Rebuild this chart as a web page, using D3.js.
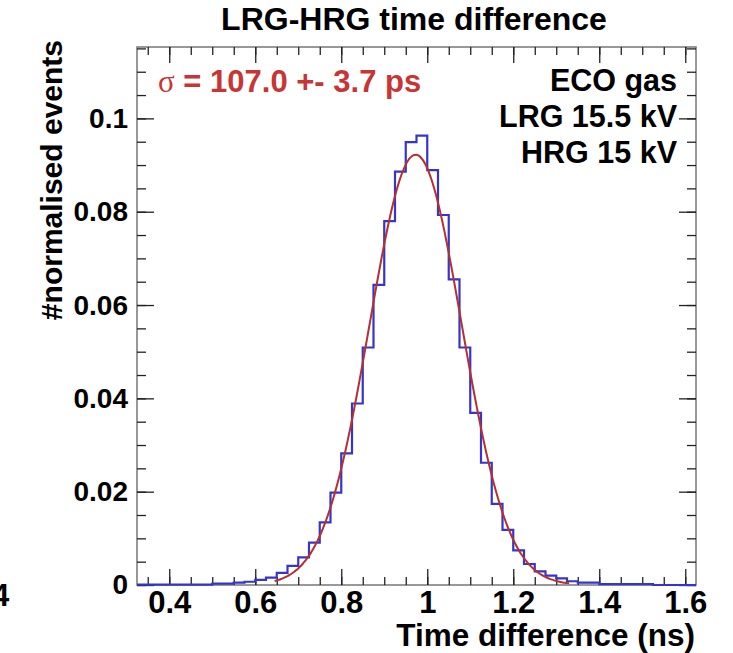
<!DOCTYPE html>
<html>
<head>
<meta charset="utf-8">
<script src="https://cdn.jsdelivr.net/npm/d3@7"></script>
<style>
  body { margin: 0; background: #fff; }
  text { font-family: 'Liberation Sans', Arial, sans-serif; font-weight: bold; }
</style>
</head>
<body>
<div id="chart"></div>
<script>
const width = 733
const height = 653

// histogram: first bin edge, bin width and bin contents (normalised)
const binStart = 0.325
const binWidth = 0.025
const binValues = [
    0.0001, 0.0001, 0.0001, 0.0001, 0.0001, 0.0001, 0.0001,
    0.0003, 0.0003, 0.0005, 0.0007, 0.0011, 0.0016, 0.0026, 0.0041,
    0.0059, 0.0091, 0.0134, 0.0198, 0.0282, 0.0389, 0.0509, 0.0643,
    0.0780, 0.0886, 0.0949, 0.0963, 0.0889, 0.0793, 0.0655, 0.0509,
    0.0369, 0.0262, 0.0174, 0.0118, 0.0074, 0.0045, 0.0029, 0.0020,
    0.0014, 0.0008, 0.0005, 0.0005, 0.0002, 0.0002, 0.0002, 0.0002,
    0.0002, 0, 0, 0, 0
]

// gaussian fit: constant, mean, sigma (ns) and fit range
const fitConst = 0.0922
const fitMean = 0.973
const fitSigma = 0.107
const fitRange = [0.645, 1.33]

const xMajor = [0.4, 0.6, 0.8, 1.0, 1.2, 1.4, 1.6]
const yMajor = [0, 0.02, 0.04, 0.06, 0.08, 0.1]

const legendLines = ['ECO gas', 'LRG 15.5 kV', 'HRG 15 kV']

const frame = {left: 137, right: 696, top: 47, bottom: 585}

const x = d3.scaleLinear()
    .domain([0.325, 1.625])
    .range([frame.left, frame.right])

const y = d3.scaleLinear()
    .domain([0, 0.1153])
    .range([frame.bottom, frame.top])

const svg = d3.select('#chart')
    .append('svg')
    .attr('width', width)
    .attr('height', height)

// frame
svg.append('rect')
    .attr('x', frame.left)
    .attr('y', frame.top)
    .attr('width', frame.right - frame.left)
    .attr('height', frame.bottom - frame.top)
    .attr('fill', 'none')
    .attr('stroke', '#777')
    .attr('stroke-width', 1.5)

const xMinor = d3.range(0.35, 1.625, 0.05).map(v => +v.toFixed(3))
const yMinor = d3.range(0, 0.1153, 0.005).map(v => +v.toFixed(4))

function styleAxis (g, size) {
    g.select('.domain').remove()
    g.selectAll('.tick line').attr('stroke', '#222').attr('stroke-width', 1.3)
    g.selectAll('.tick text')
        .attr('fill', '#000')
        .style('font-size', size + 'px')
        .style('font-family', "'Liberation Sans', Arial, sans-serif")
        .style('font-weight', 'bold')
}

// bottom axis, ticks pointing inside
svg.append('g')
    .attr('transform', `translate(0,${frame.bottom})`)
    .call(d3.axisBottom(x).tickValues(xMinor).tickSize(-8).tickFormat(''))
    .call(styleAxis)
svg.append('g')
    .attr('transform', `translate(0,${frame.bottom})`)
    .call(d3.axisBottom(x).tickValues(xMajor).tickSize(-16).tickPadding(6).tickFormat(d3.format('~g')))
    .call(styleAxis, 31)

// top axis
svg.append('g')
    .attr('transform', `translate(0,${frame.top})`)
    .call(d3.axisTop(x).tickValues(xMinor).tickSize(-8).tickFormat(''))
    .call(styleAxis)
svg.append('g')
    .attr('transform', `translate(0,${frame.top})`)
    .call(d3.axisTop(x).tickValues(xMajor).tickSize(-16).tickFormat(''))
    .call(styleAxis)

// left axis
svg.append('g')
    .attr('transform', `translate(${frame.left},0)`)
    .call(d3.axisLeft(y).tickValues(yMinor).tickSize(-9).tickFormat(''))
    .call(styleAxis)
svg.append('g')
    .attr('transform', `translate(${frame.left},0)`)
    .call(d3.axisLeft(y).tickValues(yMajor).tickSize(-17).tickPadding(9).tickFormat(d3.format('~g')))
    .call(styleAxis, 28)

// right axis
svg.append('g')
    .attr('transform', `translate(${frame.right},0)`)
    .call(d3.axisRight(y).tickValues(yMinor).tickSize(-9).tickFormat(''))
    .call(styleAxis)
svg.append('g')
    .attr('transform', `translate(${frame.right},0)`)
    .call(d3.axisRight(y).tickValues(yMajor).tickSize(-17).tickFormat(''))
    .call(styleAxis)

// histogram as a step line
const bins = binValues.map((v, i) => ({x0: binStart + i * binWidth, v}))
const steps = bins.map(b => [b.x0, b.v])
steps.push([binStart + bins.length * binWidth, binValues[binValues.length - 1]])

svg.append('path')
    .datum(steps)
    .attr('fill', 'none')
    .attr('stroke', '#3535cc')
    .attr('stroke-width', 2.2)
    .attr('d', d3.line()
        .x(d => x(d[0]))
        .y(d => y(d[1]))
        .curve(d3.curveStepAfter))

// fit curve
const gauss = t => fitConst * Math.exp(-0.5 * Math.pow((t - fitMean) / fitSigma, 2))
const fitPts = d3.range(fitRange[0], fitRange[1] + 1e-9, 0.005).map(t => [t, gauss(t)])

svg.append('path')
    .datum(fitPts)
    .attr('fill', 'none')
    .attr('stroke', '#b5302e')
    .attr('stroke-width', 2)
    .attr('d', d3.line()
        .x(d => x(d[0]))
        .y(d => y(d[1]))
        .curve(d3.curveMonotoneX))

// titles
svg.append('text')
    .attr('x', 414)
    .attr('y', 30)
    .attr('text-anchor', 'middle')
    .style('font-size', '32px')
    .text('LRG-HRG time difference')

svg.append('text')
    .attr('x', frame.right - 1)
    .attr('y', 646)
    .attr('text-anchor', 'end')
    .style('font-size', '31.5px')
    .text('Time difference (ns)')

svg.append('text')
    .attr('transform', 'translate(62,40) rotate(-90)')
    .attr('text-anchor', 'end')
    .style('font-size', '30px')
    .text('#normalised events')

// fit result
const sigmaText = svg.append('text')
    .attr('x', 158)
    .attr('y', 92)
    .attr('fill', '#c83535')
    .style('font-size', '31px')
sigmaText.append('tspan')
    .style('font-family', "'Liberation Serif', serif")
    .style('font-weight', 'normal')
    .text('\u03c3')
sigmaText.append('tspan').text(' = 107.0 +- 3.7 ps')

// run conditions
svg.append('g')
    .selectAll('text')
    .data(legendLines)
    .join('text')
    .attr('x', 677)
    .attr('y', (d, i) => 91 + i * 36)
    .attr('text-anchor', 'end')
    .style('font-size', '30.5px')
    .text(d => d)

// cut-off label of the neighbouring pad
svg.append('text')
    .attr('x', -8)
    .attr('y', 606)
    .style('font-size', '31px')
    .text('4')
</script>
</body>
</html>
